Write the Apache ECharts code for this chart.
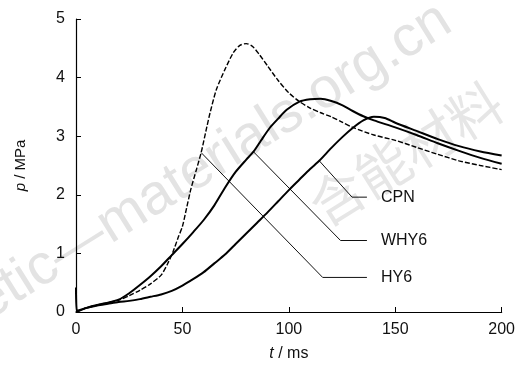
<!DOCTYPE html>
<html>
<head>
<meta charset="utf-8">
<script src="https://cdn.jsdelivr.net/npm/echarts@6/dist/echarts.min.js"></script>
<style>html,body{margin:0;padding:0;background:#fff}#c{width:518px;height:367px}</style>
</head>
<body>
<div id="c"></div>
<script>
// time axis ticks
var xTicks = [0, 50, 100, 150, 200];
var yTicks = [0, 1, 2, 3, 4, 5];

// pressure curves [t (ms), p (MPa)]
var cpn = [[0,0],[5,0.07],[10,0.12],[15,0.16],[20,0.2],[25,0.28],[30,0.37],[35,0.48],[40,0.63],[43,0.82],[45.5,1.02],[48,1.27],[50,1.46],[52,1.78],[54,2.1],[56.5,2.42],[58.8,2.72],[61,3.08],[63,3.4],[66,3.8],[70,4.14],[74,4.43],[77,4.55],[80,4.58],[83,4.53],[86,4.4],[90,4.2],[95,3.95],[100,3.74],[105,3.59],[110,3.48],[115,3.4],[120,3.33],[125,3.24],[130,3.15],[140,3.02],[150,2.93],[160,2.81],[170,2.69],[180,2.58],[190,2.5],[200,2.43]];
var why6 = [[0,0],[5,0.07],[10,0.12],[15,0.16],[20,0.21],[25,0.32],[30,0.46],[35,0.61],[40,0.78],[45,0.97],[50,1.16],[55,1.36],[60,1.57],[65,1.82],[70,2.12],[75,2.39],[80,2.6],[83.5,2.74],[87,2.93],[91,3.14],[95,3.3],[99,3.45],[105,3.59],[110,3.63],[115,3.64],[120,3.6],[125,3.53],[130,3.43],[135,3.34],[140,3.27],[150,3.15],[160,3.02],[170,2.88],[180,2.75],[190,2.63],[200,2.53]];
var hy6 = [[0,0.42],[0.4,0.02],[5,0.07],[10,0.11],[15,0.14],[20,0.17],[25,0.19],[30,0.22],[35,0.26],[40,0.3],[45,0.36],[50,0.45],[55,0.56],[60,0.68],[65,0.83],[70,0.98],[75,1.16],[80,1.34],[85,1.52],[90,1.7],[95,1.89],[100,2.08],[105,2.26],[110,2.44],[114.3,2.58],[120,2.8],[125,2.98],[130,3.14],[135,3.27],[140,3.33],[145,3.31],[150,3.23],[160,3.09],[170,2.95],[180,2.83],[190,2.74],[200,2.67]];

// leader lines for the labels
var labelNames = ['CPN', 'WHY6', 'HY6'];
var leaderCPN = [[114.3,2.58],[129.7,1.96],[136.7,1.96]];
var leaderWHY6 = [[83.5,2.73],[124.3,1.22],[136.7,1.22]];
var leaderHY6 = [[58.8,2.72],[115.9,0.59],[136.7,0.59]];

// watermark texts
var watermark1 = 'etic\u2014materials.org.cn';
var watermark2 = '含能材料';

var chart = echarts.init(document.getElementById('c'));
var font = '"Liberation Sans", Arial, sans-serif';

function leader(name, pts) {
  return {
    type: 'line', name: name + '-leader', data: pts, showSymbol: false, symbol: 'none',
    lineStyle: { color: '#111', width: 1 }, silent: true, z: 3, animation: false,
    endLabel: { show: true, formatter: name, distance: 14, color: '#111', fontSize: 16, fontFamily: font }
  };
}

function curve(name, data, dashed, width) {
  return {
    type: 'line', name: name, data: data, showSymbol: false, symbol: 'none', smooth: 0.25,
    lineStyle: { color: '#000', width: width, type: dashed ? [5, 2] : 'solid' },
    z: 4, animation: false
  };
}

chart.setOption({
  animation: false,
  backgroundColor: '#fff',
  grid: { left: 76, right: 9.5, top: 19, bottom: 50.5 },
  graphic: [
    { type: 'text', z: -10, silent: true, rotation: 32 * Math.PI / 180,
      x: -6, y: 332,
      style: { text: watermark1, fill: '#e3e3e3', verticalAlign: 'bottom', font: '57px "Liberation Sans", Arial, sans-serif' } },
    { type: 'text', z: -10, silent: true, rotation: 32 * Math.PI / 180,
      x: 300, y: 188,
      style: { text: watermark2, fill: '#e6e6e6', verticalAlign: 'top', font: '54px "Noto Sans CJK SC", sans-serif' } }
  ],
  xAxis: {
    type: 'value', min: 0, max: 200, interval: 50,
    name: '{i|t} / ms', nameLocation: 'middle', nameGap: 34,
    nameTextStyle: { color: '#111', fontSize: 16, fontFamily: font, rich: { i: { fontStyle: 'italic', fontSize: 16, fontFamily: font, color: '#111' } } },
    axisLine: { lineStyle: { color: '#000', width: 1.2 } },
    axisTick: { inside: true, length: 5, lineStyle: { color: '#000' } },
    axisLabel: { color: '#111', fontSize: 16, fontFamily: font, margin: 10 },
    splitLine: { show: false }
  },
  yAxis: {
    type: 'value', min: 0, max: 5, interval: 1,
    name: '{i|p} / MPa', nameLocation: 'middle', nameGap: 48, nameRotate: 90,
    nameTextStyle: { color: '#111', fontSize: 15, fontFamily: font, rich: { i: { fontStyle: 'italic', fontSize: 15, fontFamily: font, color: '#111' } } },
    axisLine: { show: true, lineStyle: { color: '#000', width: 1.2 } },
    axisTick: { show: true, inside: true, length: 5, lineStyle: { color: '#000' } },
    axisLabel: { color: '#111', fontSize: 16, fontFamily: font, margin: 11 },
    splitLine: { show: false }
  },
  series: [
    curve('CPN', cpn, true, 1.4),
    curve('WHY6', why6, false, 2),
    curve('HY6', hy6, false, 2),
    leader(labelNames[0], leaderCPN),
    leader(labelNames[1], leaderWHY6),
    leader(labelNames[2], leaderHY6)
  ]
});
</script>
</body>
</html>
